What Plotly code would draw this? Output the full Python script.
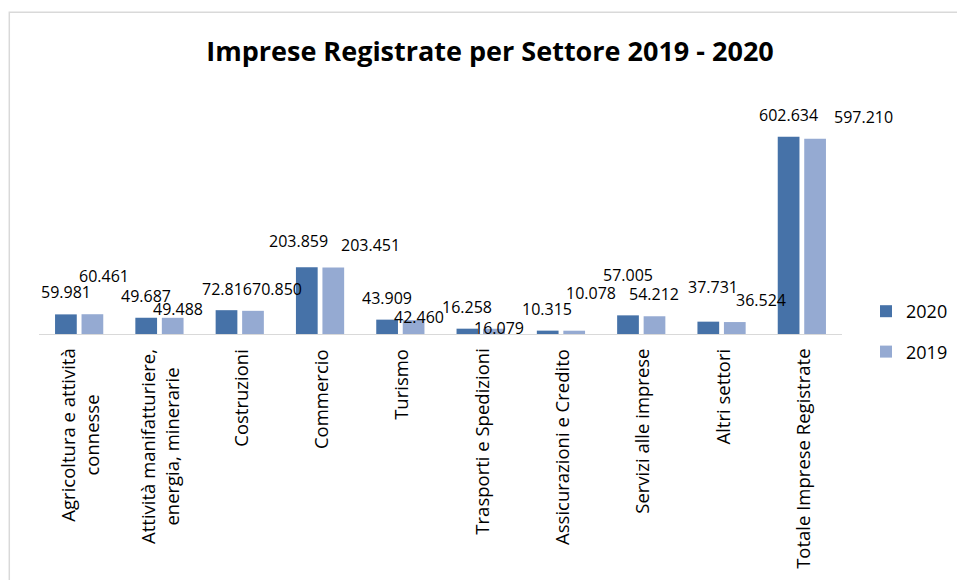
import plotly.graph_objects as go

categories = [
    "Agricoltura e attività<br>connesse",
    "Attività manifatturiere,<br>energia, minerarie",
    "Costruzioni",
    "Commercio",
    "Turismo",
    "Trasporti e Spedizioni",
    "Assicurazioni e Credito",
    "Servizi alle imprese",
    "Altri settori",
    "Totale Imprese Registrate",
]
values_2020 = [59981, 49687, 72816, 203859, 43909, 16258, 10315, 57005, 37731, 602634]
values_2019 = [60461, 49488, 70850, 203451, 42460, 16079, 10078, 54212, 36524, 597210]
series_names = ["2020", "2019"]

# style: label offsets in pixels (dx, dy) relative to each bar top centre
label_dx_2020 = [0, 0, 0, -8.5, 0, 0, -1, 0, 5, 0]
label_dy_2020 = [22, 21.3, 21, 26.8, 21.6, 21.7, 21.6, 40, 34.6, 21.7]
label_dx_2019 = [11.5, 5.5, 24.5, 37, 5, 5.5, 17, 0, 26.5, 48]
label_dy_2019 = [38, 9, 21.8, 22.6, 3, 0.3, 37.7, 22.5, 22.3, 21.6]

W, H = 957, 580
ML, MR, MT, MB = 39, 115, 105, 246
BARGAP, BARGROUPGAP = 0.34, 0.18
colors = ["#4672A8", "#95AAD2"]
FONT = "Open Sans"


def fmt(v):
    return f"{v:,}".replace(",", ".")


fig = go.Figure()
for name, vals, col in zip(series_names, [values_2020, values_2019], colors):
    fig.add_trace(go.Bar(
        x=categories, y=vals, name=name, marker_color=col,
        marker_line_width=0, legendgroup=name, hoverinfo="x+y",
    ))

plot_w = W - ML - MR
plot_h = H - MT - MB
cat_w = plot_w / len(categories)
slot = (1 - BARGAP) * cat_w / 2
bar_off = [-slot / 2, slot / 2]

annotations = []
for k, (vals, dxs, dys) in enumerate([(values_2020, label_dx_2020, label_dy_2020),
                                      (values_2019, label_dx_2019, label_dy_2019)]):
    for c, v, dx, dy in zip(categories, vals, dxs, dys):
        annotations.append(dict(
            x=c, y=v, xref="x", yref="y", text=fmt(v), showarrow=False,
            xanchor="center", yanchor="middle",
            xshift=bar_off[k] + dx, yshift=dy,
            font=dict(family=FONT, size=16, color="#000000"),
        ))

# category labels (rotated, centred lines)
for c in categories:
    annotations.append(dict(
        x=c, y=0, xref="x", yref="paper", text=c, showarrow=False,
        textangle=-90, xanchor="center", yanchor="top", align="center",
        yshift=-13, font=dict(family=FONT, size=18.5, color="#000000"),
    ))

# chart border (light grey frame, open to the right and bottom)
bx0 = (9.3 - ML) / plot_w
bx1 = (W + 20 - ML) / plot_w
by1 = (H - MB - 12.3) / plot_h
by0 = (H - MB - (H + 20)) / plot_h

fig.update_layout(
    width=W, height=H,
    margin=dict(l=ML, r=MR, t=MT, b=MB, autoexpand=False),
    paper_bgcolor="white", plot_bgcolor="white",
    barmode="group", bargap=BARGAP, bargroupgap=BARGROUPGAP,
    title=dict(text="<b>Imprese Registrate per Settore 2019 - 2020</b>",
               x=490 / W, xref="container", xanchor="center",
               y=1 - 52 / H, yref="container", yanchor="middle",
               font=dict(family=FONT, size=27, color="#000000")),
    xaxis=dict(type="category", range=[-0.5, len(categories) - 0.5],
               showline=True, linecolor="#d9d9d9", linewidth=1, ticks="",
               showgrid=False, showticklabels=False),
    yaxis=dict(range=[0, 700000], visible=False, showgrid=False, zeroline=False),
    legend=dict(x=(866 - ML) / plot_w, xanchor="left", y=(H - MB - 293) / plot_h, yanchor="top",
                traceorder="grouped", tracegroupgap=14,
                font=dict(family=FONT, size=18, color="#000000"),
                bgcolor="rgba(0,0,0,0)"),
    annotations=annotations,
    shapes=[dict(type="rect", xref="paper", yref="paper", x0=bx0, x1=bx1, y0=by0, y1=by1,
                 line=dict(color="#d9d9d9", width=1.5), fillcolor="rgba(0,0,0,0)", layer="below")],
    showlegend=True,
)

fig.write_html(
    "out.html",
    config={"displayModeBar": False},
    post_script="document.body.style.margin='0';document.body.style.overflow='hidden';",
)
